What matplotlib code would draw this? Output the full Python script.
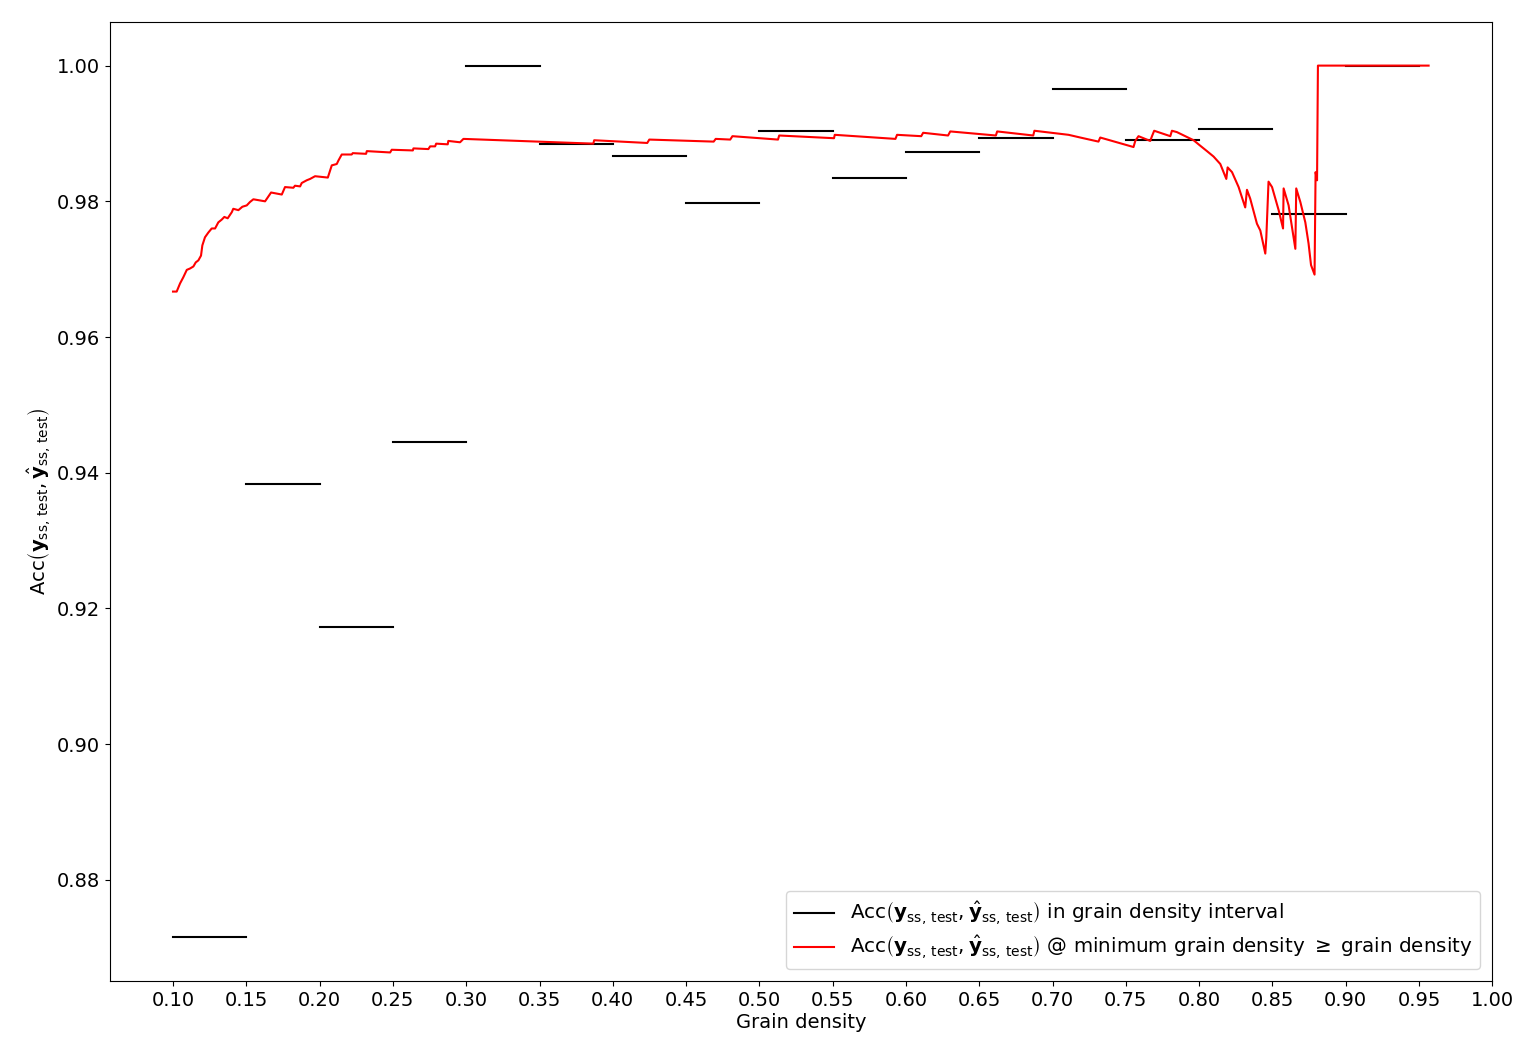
import matplotlib
matplotlib.use('Agg')
import matplotlib.pyplot as plt
import numpy as np

# accuracy within each grain density interval
bin_lo = [0.10, 0.15, 0.20, 0.25, 0.30, 0.35, 0.40, 0.45, 0.50,
          0.55, 0.60, 0.65, 0.70, 0.75, 0.80, 0.85, 0.90]
bin_hi = [0.15, 0.20, 0.25, 0.30, 0.35, 0.40, 0.45, 0.50, 0.55,
          0.60, 0.65, 0.70, 0.75, 0.80, 0.85, 0.90, 0.95]
bin_acc = [0.8716, 0.9383, 0.9173, 0.9445, 1.0000, 0.9885, 0.9867, 0.9798, 0.9904,
           0.9834, 0.9873, 0.9893, 0.9965, 0.9890, 0.9907, 0.9781, 1.0000]

# accuracy for all samples with grain density >= threshold
cum_x = [0.1000, 0.1025, 0.1048, 0.1070, 0.1094, 0.1116, 0.1139, 0.1155, 0.1173, 0.1191,
         0.1200, 0.1218, 0.1241, 0.1264, 0.1287, 0.1309, 0.1332, 0.1350, 0.1373, 0.1401,
         0.1411, 0.1446, 0.1473, 0.1503, 0.1525, 0.1548, 0.1628, 0.1669, 0.1742, 0.1764,
         0.1821, 0.1832, 0.1867, 0.1878, 0.1912, 0.1935, 0.1969, 0.2056, 0.2083, 0.2117,
         0.2128, 0.2151, 0.2219, 0.2226, 0.2317, 0.2322, 0.2481, 0.2492, 0.2636, 0.2640,
         0.2742, 0.2754, 0.2788, 0.2795, 0.2874, 0.2878, 0.2958, 0.2981,
         0.3867, 0.3873, 0.4235, 0.4249, 0.4688, 0.4702, 0.4801, 0.4816, 0.5127, 0.5135,
         0.5509, 0.5514, 0.5928, 0.5939, 0.6104, 0.6117, 0.6287, 0.6302, 0.6613, 0.6622,
         0.6868, 0.6876, 0.7109, 0.7189, 0.7313, 0.7325, 0.7552, 0.7564, 0.7586, 0.7666,
         0.7678, 0.7693, 0.7803, 0.7814, 0.7848, 0.7962, 0.8007, 0.8053, 0.8098, 0.8144,
         0.8185, 0.8194, 0.8224, 0.8269, 0.8314, 0.8326, 0.8348, 0.8394, 0.8417, 0.8451,
         0.8458, 0.8473, 0.8497, 0.8542, 0.8572, 0.8576, 0.8610, 0.8656, 0.8662, 0.8690,
         0.8724, 0.8746, 0.8763, 0.8787, 0.8794, 0.8804, 0.8810, 0.9565]
cum_acc = [0.9667, 0.9667, 0.9679, 0.9688, 0.9699, 0.9701, 0.9704, 0.9710, 0.9713, 0.9720,
           0.9735, 0.9747, 0.9754, 0.9760, 0.9760, 0.9769, 0.9773, 0.9777, 0.9775, 0.9784,
           0.9789, 0.9787, 0.9792, 0.9794, 0.9799, 0.9803, 0.9800, 0.9813, 0.9810, 0.9821,
           0.9820, 0.9823, 0.9822, 0.9827, 0.9831, 0.9833, 0.9837, 0.9835, 0.9853, 0.9855,
           0.9860, 0.9869, 0.9869, 0.9871, 0.9870, 0.9874, 0.9872, 0.9876, 0.9875, 0.9878,
           0.9877, 0.9881, 0.9881, 0.9885, 0.9884, 0.9889, 0.9887, 0.9892,
           0.9885, 0.9890, 0.9886, 0.9891, 0.9888, 0.9892, 0.9891, 0.9896, 0.9891, 0.9897,
           0.9893, 0.9898, 0.9892, 0.9898, 0.9896, 0.9901, 0.9897, 0.9903, 0.9897, 0.9903,
           0.9897, 0.9904, 0.9898, 0.9894, 0.9888, 0.9894, 0.9880, 0.9889, 0.9896, 0.9889,
           0.9896, 0.9904, 0.9896, 0.9904, 0.9902, 0.9890, 0.9882, 0.9874, 0.9866, 0.9855,
           0.9833, 0.9850, 0.9843, 0.9821, 0.9791, 0.9817, 0.9804, 0.9767, 0.9757, 0.9723,
           0.9747, 0.9829, 0.9821, 0.9787, 0.9760, 0.9819, 0.9794, 0.9730, 0.9819, 0.9799,
           0.9769, 0.9738, 0.9706, 0.9692, 0.9843, 0.9831, 1.0000, 1.0000]

acc_label = r'Acc$\left(\mathbf{y}_{\rm ss,\,test}, \hat{\mathbf{y}}_{\rm ss,\,test}\right)$'

plt.rcParams['font.size'] = 14

fig = plt.figure(figsize=(15.36, 10.56), dpi=100)
ax = fig.add_axes([0.0716, 0.071, 0.9, 0.908])

for i in range(len(bin_lo)):
    ax.plot([bin_lo[i], bin_hi[i]], [bin_acc[i], bin_acc[i]], color='black', lw=1.5,
            label=acc_label + ' in grain density interval' if i == 0 else None)

ax.plot(cum_x, cum_acc, color='red', lw=1.5,
        label=acc_label + r' @ minimum grain density $\geq$ grain density')

ax.set_xticks(np.arange(0.10, 1.001, 0.05))
ax.set_xticklabels([f"{t:.2f}" for t in np.arange(0.10, 1.001, 0.05)])
ax.set_xlim(0.057, 1.0)
ax.set_ylim(0.8651, 1.0064)
ax.set_xlabel('Grain density', labelpad=2)
ax.set_ylabel(acc_label, labelpad=2)
ax.legend(loc='lower right', borderaxespad=0.6, labelspacing=0.3,
          prop={'size': 14.3})

plt.savefig('out.png')
